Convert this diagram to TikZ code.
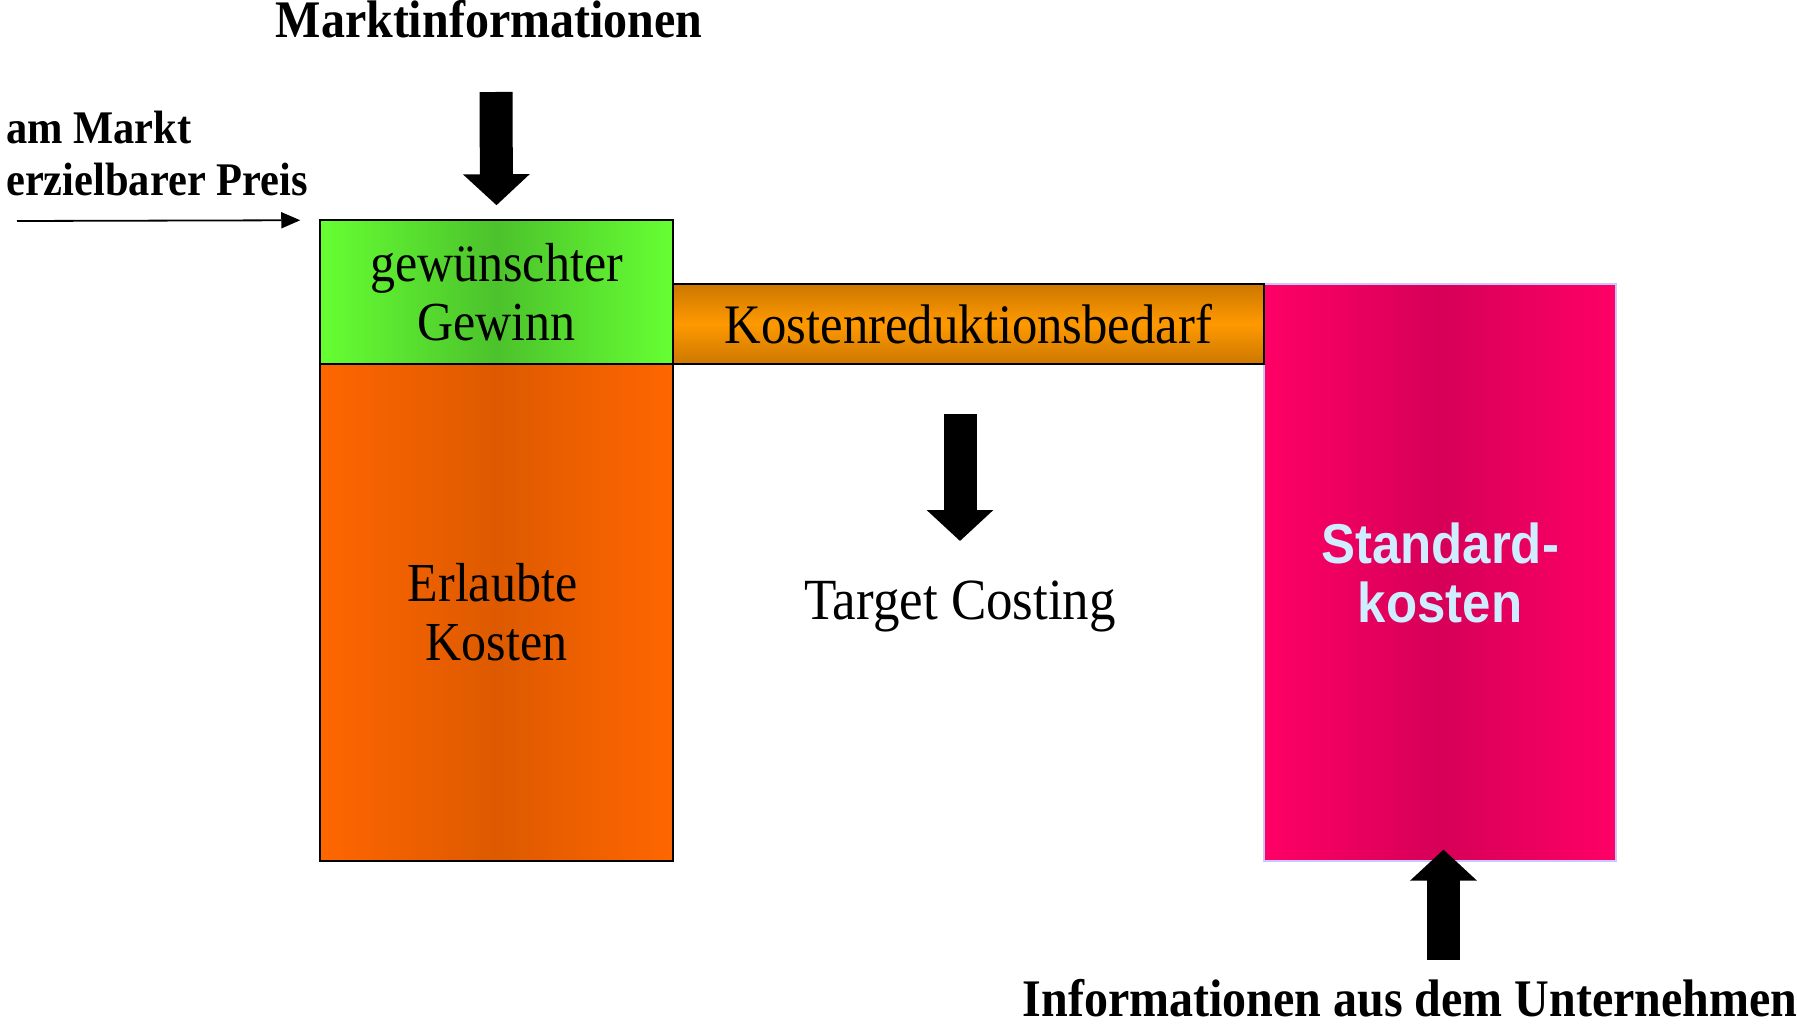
\documentclass[tikz,border=0pt]{standalone}
\usepackage{fontspec}
\usepackage{graphicx}
\setmainfont{Liberation Serif}
\newfontfamily\headsans{Liberation Sans}
\usetikzlibrary{arrows.meta}

% slightly tall lettering
\newcommand{\tallbox}[1]{\scalebox{1}[1.1]{#1}}

\definecolor{gwEdge}{RGB}{102,255,51}
\definecolor{gwMid}{RGB}{76,194,44}
\definecolor{ekEdge}{RGB}{255,102,0}
\definecolor{ekMid}{RGB}{221,90,0}
\definecolor{krEdge}{RGB}{204,119,0}
\definecolor{krMid}{RGB}{255,153,0}
\definecolor{skEdge}{RGB}{255,0,102}
\definecolor{skMid}{RGB}{214,0,88}
\definecolor{skLine}{RGB}{200,200,255}
\definecolor{skText}{RGB}{208,236,255}

\tikzset{
  costbox/.style={rectangle, draw=black, line width=1.5pt, inner sep=0pt,
    align=center, font=\fontsize{50}{59}\selectfont},
  blockarrow/.style={line width=33pt, -{Triangle[width=65pt,length=31pt]}},
  thinarrow/.style={line width=1.8pt, -{Triangle[width=16pt,length=19pt]}},
  boldlabel/.style={font=\fontsize{48}{51}\selectfont\bfseries, inner sep=0pt},
  plainlabel/.style={font=\fontsize{53}{59}\selectfont, inner sep=0pt}
}

\begin{document}
\begin{tikzpicture}[x=1pt, y=-1pt]
  \useasboundingbox[fill=white] (0,0) rectangle (1797,1024);

  % cost blocks
  \node[costbox, minimum width=353pt, minimum height=144pt,
        left color=gwEdge, right color=gwEdge, middle color=gwMid]
        (gw) at (496.5,292) {\tallbox{gewünschter}\\\tallbox{Gewinn}};
  \node[costbox, minimum width=353pt, minimum height=497pt,
        left color=ekEdge, right color=ekEdge, middle color=ekMid]
        (ek) at (496.5,612.5) {\tallbox{Erlaubte\hspace*{8pt}}\\\tallbox{Kosten}};
  \node[costbox, draw=skLine, line width=1.2pt, minimum width=352pt, minimum height=577pt,
        left color=skEdge, right color=skEdge, middle color=skMid,
        text=skText, font=\fontsize{51}{59}\selectfont\headsans\bfseries]
        (sk) at (1440,572.5) {\tallbox{Standard-}\\\tallbox{kosten}};
  \node[costbox, minimum width=591pt, minimum height=80pt,
        top color=krEdge, bottom color=krEdge, middle color=krMid,
        font=\fontsize{50.7}{59}\selectfont]
        (kr) at (968.5,324) {\tallbox{Kostenreduktionsbedarf}};

  % labels
  \node[boldlabel, anchor=base] (mkt) at (489,38) {\tallbox{Marktinformationen}};
  \node[boldlabel, font=\fontsize{42.5}{52}\selectfont\bfseries,
        anchor=base west, align=left] (preis) at (6,196)
        {\tallbox{am Markt}\\\tallbox{erzielbarer Preis}};
  \node[plainlabel, anchor=base] (tc) at (960,619) {\tallbox{Target Costing}};
  \node[boldlabel, anchor=base] (info) at (1410,1016)
        {\tallbox{Informationen aus dem Unternehmen}};

  % arrows
  \coordinate (preisStart) at (17,221);
  \draw[thinarrow] (preisStart) -- ([xshift=-19pt,yshift=-1pt]gw.north west);
  \draw[blockarrow] ([xshift=7pt,yshift=-54pt]mkt.base) -- ([yshift=14pt]gw.north);
  \draw[blockarrow] ([xshift=-8.5pt,yshift=-49pt]kr.south) -- ([yshift=78pt]tc.base);
  \draw[blockarrow] ([xshift=33.5pt,yshift=56pt]info.base) -- ([xshift=3.5pt,yshift=12pt]sk.south);
\end{tikzpicture}
\end{document}
